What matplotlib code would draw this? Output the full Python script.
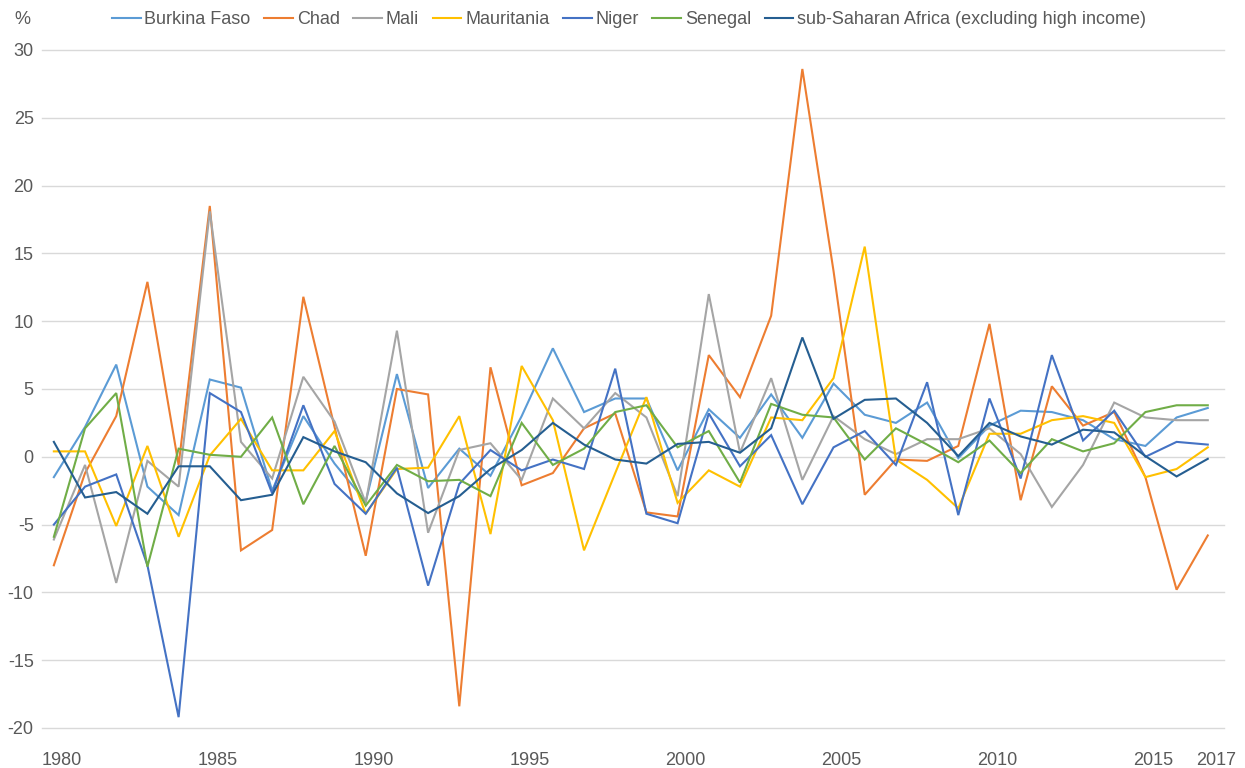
import matplotlib
matplotlib.use("Agg")
import matplotlib.pyplot as plt
import matplotlib.transforms as mtransforms

years = list(range(1980, 2018))

burkina_faso = [-1.5, 2.2, 6.8, -2.2, -4.3, 5.7, 5.1, -2.5, 3.0, -0.5,
                -3.3, 6.1, -2.3, 0.6, -1.4, 3.0, 8.0, 3.3, 4.3, 4.3,
                -1.0, 3.5, 1.4, 4.6, 1.4, 5.4, 3.1, 2.5, 4.0, -0.1,
                2.3, 3.4, 3.3, 2.7, 1.3, 0.8, 2.9, 3.6]
chad = [-8.0, -1.2, 3.0, 12.9, -0.6, 18.5, -6.9, -5.4, 11.8, 2.2,
        -7.3, 5.0, 4.6, -18.4, 6.6, -2.1, -1.2, 2.1, 3.2, -4.1,
        -4.4, 7.5, 4.4, 10.4, 28.6, 13.7, -2.8, -0.2, -0.3, 0.8,
        9.8, -3.2, 5.2, 2.3, 3.3, -1.5, -9.8, -5.8]
mali = [-6.1, -0.6, -9.3, -0.3, -2.2, 18.1, 1.1, -1.6, 5.9, 2.6,
        -3.4, 9.3, -5.6, 0.5, 1.0, -1.7, 4.3, 2.1, 4.7, 2.9,
        -2.9, 12.0, 0.3, 5.8, -1.7, 3.0, 1.3, 0.2, 1.3, 1.3,
        2.1, 0.2, -3.7, -0.6, 4.0, 2.9, 2.7, 2.7]
mauritania = [0.4, 0.4, -5.1, 0.8, -5.9, 0.1, 2.8, -1.0, -1.0, 1.9,
              -4.2, -0.9, -0.8, 3.0, -5.7, 6.7, 2.7, -6.9, -1.2, 4.4,
              -3.4, -1.0, -2.2, 2.9, 2.7, 5.8, 15.5, -0.2, -1.7, -3.8,
              1.7, 1.7, 2.7, 3.0, 2.5, -1.5, -0.9, 0.7]
niger = [-5.0, -2.2, -1.3, -8.0, -19.2, 4.7, 3.3, -2.7, 3.8, -2.0,
         -4.2, -0.8, -9.5, -2.0, 0.5, -1.0, -0.2, -0.9, 6.5, -4.2,
         -4.9, 3.2, -0.7, 1.6, -3.5, 0.7, 1.9, -0.6, 5.5, -4.3,
         4.3, -1.6, 7.5, 1.2, 3.4, 0.0, 1.1, 0.9]
senegal = [-5.9, 2.1, 4.7, -8.1, 0.6, 0.15, 0.0, 2.9, -3.5, 0.8,
           -3.6, -0.6, -1.8, -1.7, -2.9, 2.5, -0.6, 0.6, 3.3, 3.8,
           0.7, 1.9, -1.9, 3.9, 3.1, 2.9, -0.2, 2.1, 0.9, -0.4,
           1.2, -1.2, 1.3, 0.4, 1.0, 3.3, 3.8, 3.8]
ssa = [1.1, -3.0, -2.6, -4.2, -0.7, -0.7, -3.2, -2.8, 1.45, 0.4,
       -0.4, -2.7, -4.15, -2.9, -0.9, 0.5, 2.5, 0.9, -0.2, -0.5,
       0.95, 1.1, 0.3, 2.1, 8.8, 2.8, 4.2, 4.3, 2.5, 0.05,
       2.5, 1.5, 0.9, 2.0, 1.8, 0.05, -1.45, -0.15]

series_names = ["Burkina Faso", "Chad", "Mali", "Mauritania", "Niger",
                "Senegal", "sub-Saharan Africa (excluding high income)"]
series_values = [burkina_faso, chad, mali, mauritania, niger, senegal, ssa]
colors = ["#5B9BD5", "#ED7D31", "#A5A5A5", "#FFC000", "#4472C4",
          "#70AD47", "#255E91"]

xtick_labels = [1980, 1985, 1990, 1995, 2000, 2005, 2010, 2015, 2017]
ytick_values = list(range(-20, 31, 5))

plt.rcParams['font.family'] = ['Liberation Sans', 'DejaVu Sans']
text_color = "#595959"

W, H = 1245, 768
fig = plt.figure(figsize=(W / 100, H / 100), dpi=100)
ax = fig.add_axes([42 / W, 1 - 728 / H, (1224 - 42) / W, (728 - 50) / H])

for name, vals, c in zip(series_names, series_values, colors):
    ax.plot(years, vals, color=c, lw=1.5, label=name, solid_joinstyle='miter')

ax.set_xlim(1979.62, 2017.52)
ax.set_ylim(-20, 30)
ax.set_yticks(ytick_values)
ax.set_yticklabels([str(v) for v in ytick_values])
ax.set_xticks(xtick_labels)
ax.set_xticklabels([str(v) for v in xtick_labels])

ax.grid(axis='y', color='#D9D9D9', lw=1.0)
for gl in ax.get_ygridlines():
    gl.set_clip_on(False)
ax.set_axisbelow(True)
for s in ax.spines.values():
    s.set_visible(False)
ax.tick_params(axis='both', length=0, labelsize=13, labelcolor=text_color)
ax.tick_params(axis='y', pad=6)
ax.tick_params(axis='x', pad=17.5)

offset = mtransforms.ScaledTranslation(8 / 100, 0, fig.dpi_scale_trans)
for lab in ax.get_xticklabels():
    lab.set_transform(lab.get_transform() + offset)

fig.text(14 / W, 1 - 20 / H, "%", fontsize=13, color=text_color,
         ha='left', va='center')

leg = fig.legend(loc='center', bbox_to_anchor=(629 / W, 1 - 20 / H),
                 ncol=7, frameon=False, fontsize=13, handlelength=1.6,
                 handletextpad=0.2, columnspacing=0.75, borderaxespad=0)
for t in leg.get_texts():
    t.set_color(text_color)

fig.savefig("out.png", dpi=100)
